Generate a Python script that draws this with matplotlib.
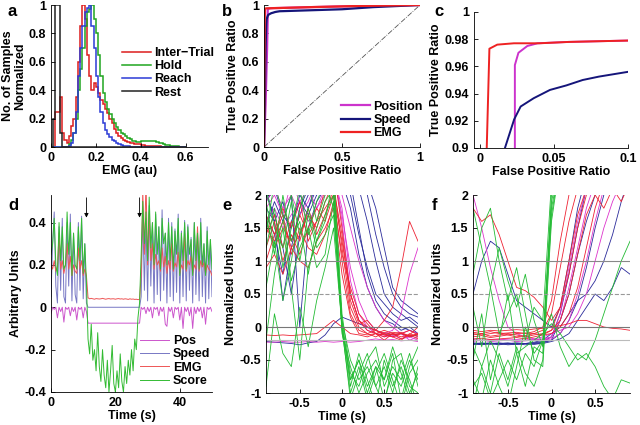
import numpy as np
import matplotlib
matplotlib.use("Agg")
import matplotlib.pyplot as plt
from matplotlib.ticker import FuncFormatter

plt.rcParams['font.family'] = ['Liberation Sans', 'DejaVu Sans']
plt.rcParams['font.weight'] = 'bold'
plt.rcParams['axes.labelweight'] = 'bold'
plt.rcParams['font.size'] = 9

# ---- panel a: EMG histograms (bins of 0.01 from 0 to 0.6) ----
hist_edges = np.linspace(0, 0.6, 61)
inter_trial = [0, 0, 0.25, 0.25, 0.35, 0.1, 0.05, 0.03, 0.08, 0.15,
               0.2, 0.35, 0.6, 0.85, 1.0, 0.9, 0.65, 0.5, 0.4, 0.45,
               0.42, 0.38, 0.33, 0.3, 0.27, 0.24, 0.2, 0.17, 0.13, 0.1,
               0.08, 0.06, 0.05, 0.04, 0.035, 0.03, 0.025, 0.02, 0.02, 0.018,
               0.015, 0.012, 0.01, 0.01, 0.008, 0.008, 0.006, 0.005, 0.004, 0.003,
               0.002, 0.002, 0.001, 0.001, 0, 0, 0, 0, 0, 0]
hold = [0, 0, 0, 0, 0, 0, 0, 0, 0.02, 0.05,
        0.1, 0.2, 0.4, 0.55, 0.7, 0.85, 0.95, 0.97, 1.0, 0.9,
        0.8, 0.65, 0.5, 0.38, 0.32, 0.27, 0.23, 0.2, 0.17, 0.14,
        0.12, 0.1, 0.09, 0.08, 0.065, 0.055, 0.045, 0.04, 0.035, 0.035,
        0.04, 0.04, 0.045, 0.04, 0.045, 0.04, 0.04, 0.035, 0.03, 0.025,
        0.02, 0.015, 0.012, 0.01, 0.008, 0.005, 0.004, 0.003, 0.002, 0.001]
reach = [0, 0, 0, 0, 0, 0, 0, 0, 0.01, 0.03,
         0.1, 0.25, 0.5, 0.7, 0.85, 0.95, 0.98, 1.0, 0.85, 0.7,
         0.5, 0.35, 0.25, 0.17, 0.12, 0.09, 0.07, 0.05, 0.04, 0.03,
         0.02, 0.015, 0.01, 0.008, 0.005, 0.003, 0, 0, 0, 0,
         0, 0, 0, 0, 0, 0, 0, 0, 0, 0,
         0, 0, 0, 0, 0, 0, 0, 0, 0, 0]
rest = [0, 0.2, 1.0, 1.0, 0.1] + [0] * 55

# ---- panels b, c: ROC curves ----
pos_fpr = [0, 0.01, 0.02, 0.0236, 0.0236, 0.026, 0.032, 0.039, 0.06, 0.1, 0.3, 0.6, 1.0]
pos_tpr = [0, 0.3, 0.7, 0.9, 0.961, 0.970, 0.975, 0.977, 0.978, 0.979, 0.985, 0.993, 1.0]
spd_fpr = [0, 0.005, 0.01, 0.015, 0.0169, 0.0231, 0.0275, 0.0363, 0.0473, 0.0583,
           0.0694, 0.0804, 0.1, 0.3, 0.5, 0.7, 1.0]
spd_tpr = [0, 0.3, 0.7, 0.87, 0.9, 0.921, 0.9305, 0.9366, 0.9427, 0.946,
           0.950, 0.9525, 0.956, 0.963, 0.970, 0.985, 1.0]
emg_fpr = [0, 0.002, 0.0046, 0.0064, 0.0117, 0.023, 0.04, 0.06, 0.1, 0.3, 0.6, 1.0]
emg_tpr = [0, 0.5, 0.9, 0.973, 0.976, 0.977, 0.977, 0.978, 0.979, 0.985, 0.993, 1.0]

# ---- panel d: example session (samples every 0.5 s) ----
d_time = np.arange(0, 50.5, 0.5)
speed_d = ([0.05, 0.30, 0.45, 0.10, 0.02, 0.38, 0.08, 0.42, 0.05, 0.02, 0.40, 0.10,
            0.44, 0.03, 0.35, 0.06, 0.02, 0.40, 0.08, 0.43, 0.04, 0.30, 0.02]
           + [0.0] * 33
           + [0.05, 0.45, 0.08, 0.42, 0.03, 0.48, 0.10, 0.40, 0.02, 0.44, 0.06, 0.38,
              0.03, 0.46, 0.08, 0.35, 0.02, 0.42, 0.05, 0.40, 0.03, 0.37, 0.07, 0.44,
              0.02, 0.36, 0.05, 0.41, 0.03, 0.39, 0.08, 0.33, 0.02, 0.40, 0.06, 0.36,
              0.03, 0.42, 0.05, 0.30, 0.02, 0.38, 0.04, 0.32, 0.05])
score_d = ([0.25, 0.30, 0.42, 0.20, 0.15, 0.40, 0.22, 0.38, 0.18, 0.20, 0.45, 0.25,
            0.40, 0.15, 0.35, 0.20, 0.18, 0.38, 0.22, 0.42, 0.16, 0.30, 0.12]
           + [-0.15, -0.22, -0.08, -0.25, -0.2, -0.3, -0.12, -0.28, -0.35, -0.2, -0.32,
              -0.38, -0.25, -0.4, -0.3, -0.18, -0.36, -0.4, -0.3, -0.38, -0.22, -0.35,
              -0.4, -0.28, -0.36, -0.25, -0.32, -0.2, -0.3, -0.15, -0.2, -0.05, 0.02]
           + [0.25, 0.50, 0.30, 0.45, 0.22, 0.52, 0.28, 0.40, 0.20, 0.45, 0.25, 0.38,
              0.18, 0.42, 0.30, 0.35, 0.20, 0.40, 0.22, 0.38, 0.18, 0.36, 0.25, 0.42,
              0.15, 0.35, 0.22, 0.40, 0.18, 0.38, 0.25, 0.32, 0.15, 0.40, 0.22, 0.35,
              0.18, 0.40, 0.20, 0.30, 0.15, 0.36, 0.20, 0.32, 0.18])
emg_d = ([0.20, 0.18, 0.22, 0.17, 0.19, 0.35, 0.18, 0.22, 0.16, 0.20, 0.30, 0.18,
          0.24, 0.15, 0.20, 0.17, 0.16, 0.28, 0.18, 0.22, 0.15, 0.18, 0.15]
         + [0.045, 0.04, 0.042, 0.04, 0.038, 0.041, 0.04, 0.039, 0.04, 0.042, 0.04,
            0.038, 0.04, 0.041, 0.039, 0.04, 0.04, 0.038, 0.04, 0.041, 0.039, 0.04,
            0.038, 0.04, 0.039, 0.037, 0.04, 0.038, 0.039, 0.037, 0.038, 0.036, 0.037]
         + [0.15, 0.55, 0.25, 0.60, 0.20, 0.45, 0.22, 0.30, 0.18, 0.25, 0.20, 0.22,
            0.17, 0.28, 0.19, 0.24, 0.16, 0.22, 0.18, 0.30, 0.17, 0.21, 0.19, 0.26,
            0.16, 0.20, 0.18, 0.35, 0.17, 0.22, 0.20, 0.24, 0.16, 0.20, 0.18, 0.38,
            0.17, 0.22, 0.19, 0.21, 0.16, 0.20, 0.18, 0.17, 0.15])
pos_d = ([-0.03, 0.0, -0.01, 0.0, -0.05, 0.0, -0.02, 0.0, -0.07, 0.0, -0.01, 0.0,
          -0.04, 0.0, -0.02, 0.0, -0.06, 0.0, -0.01, 0.0, -0.05, 0.0, -0.02]
         + [-0.075] * 33
         + [0.0, -0.01, 0.0, -0.03, 0.0, -0.02, 0.0, -0.05, 0.0, -0.01, 0.0, -0.04,
            0.0, -0.02, 0.0, -0.08, -0.09, 0.0, -0.02, 0.0, -0.05, 0.0, -0.01, 0.0,
            -0.06, 0.0, -0.10, 0.0, -0.02, 0.0, -0.04, 0.0, -0.1, 0.0, -0.03, 0.0,
            -0.02, 0.0, -0.05, 0.0, -0.08, 0.0, -0.01, 0.0, -0.02])
arrow_times = [11, 27.5]

# ---- panels e, f: aligned traces ----
tt = [-0.9, -0.8, -0.7, -0.6, -0.5, -0.4, -0.3, -0.2, -0.1, 0,
      0.1, 0.2, 0.3, 0.4, 0.5, 0.6, 0.7, 0.8, 0.9]

e_score = [
    [1.2, 1.8, 0.9, 1.5, 2.1, 1.4, 1.9, 2.2, 1.8, 0.1, -0.8, -0.5, -0.9, -0.6, -1.1, -0.7, -0.9, -0.5, -0.8],
    [-0.2, 0.8, 1.5, 0.6, -0.5, 0.9, 1.3, 1.6, 2.3, 0.0, -1.1, -0.7, -0.4, -0.9, -0.6, -1.0, -0.5, -0.8, -1.2],
    [1.7, 1.1, 2.0, 1.3, 1.6, 0.8, 1.5, 1.9, 2.1, -0.1, -0.6, -1.0, -0.7, -0.5, -0.8, -0.4, -1.1, -0.6, -0.3],
    [2.1, 1.5, 1.2, 1.9, 1.0, 1.7, 1.2, 1.4, 1.7, 0.05, -0.9, -0.4, -0.8, -1.2, -0.5, -0.9, -0.6, -1.0, -0.7],
    [0.6, 1.3, 0.4, 1.0, 1.8, 2.2, 1.6, 2.0, 2.4, 0.2, -0.7, -0.9, -0.5, -0.3, -0.9, -0.6, -0.8, -0.4, -0.9],
    [1.4, 2.2, 1.7, 0.7, 1.2, 1.5, 0.9, 1.1, 1.9, -0.05, -1.0, -0.6, -1.1, -0.7, -0.4, -0.8, -1.2, -0.7, -0.5],
    [-0.9, 0.2, -0.4, -0.6, 0.3, -0.3, 0.4, 0.9, 1.5, 0.0, -0.8, -0.5, -1.0, -0.6, -0.8, -0.3, -0.7, -1.1, -0.6],
    [1.9, 1.2, 1.6, 2.0, 1.4, 1.8, 1.3, 1.7, 2.0, 0.1, -0.5, -0.8, -0.6, -0.9, -1.2, -0.5, -0.4, -0.9, -1.0],
]
e_emg = [
    [1.5, 1.3, 1.6, 1.2, 1.4, 1.7, 1.5, 1.9, 2.2, 1.2, 0.3, 0.0, -0.1, -0.05, -0.12, -0.08, -0.1, -0.15, -0.1],
    [1.2, 1.6, 1.0, 1.4, 1.1, 1.5, 1.8, 1.6, 2.0, 1.0, 0.2, -0.05, -0.1, -0.15, -0.08, -0.12, -0.1, -0.05, -0.12],
    [1.7, 1.4, 1.8, 1.5, 1.9, 1.3, 1.6, 2.1, 2.4, 1.5, 0.5, 0.1, -0.05, -0.1, -0.2, -0.1, -0.15, -0.12, -0.18],
    [0.9, 1.1, 0.8, 1.2, 1.0, 0.9, 1.3, 1.5, 1.8, 0.8, 0.15, -0.1, -0.12, -0.1, -0.15, -0.1, -0.08, -0.14, -0.1],
    [-0.12, -0.13, -0.12, -0.13, -0.12, -0.11, -0.1, 0.0, 0.1, 0.0, -0.1, -0.12, -0.15, -0.1, -0.12, -0.15, -0.1, -0.13, -0.12],
    [1.4, 1.7, 1.2, 1.6, 1.3, 1.8, 1.4, 1.7, 2.1, 1.4, 0.4, 0.05, 0.1, -0.05, -0.1, -0.15, -0.2, -0.1, -0.15],
    [1.0, 1.4, 1.7, 1.1, 1.5, 1.2, 1.1, 1.4, 1.9, 1.1, 0.6, 0.2, 0.05, -0.1, -0.05, -0.1, -0.18, -0.12, 0.0],
    [1.6, 1.2, 1.5, 1.3, 1.7, 1.4, 1.6, 1.8, 2.0, 1.3, 0.5, 0.1, 0.0, -0.05, 0.1, 0.3, 0.9, 1.6, 1.3],
]
e_pos = [
    [1.9, 2.1, 1.8, 2.0, 1.7, 1.9, 2.2, 2.3, 2.4, 1.6, 0.5, 0.1, -0.05, -0.1, -0.15, -0.12, -0.18, -0.15, -0.2],
    [1.6, 1.8, 1.5, 1.7, 1.9, 1.6, 1.8, 2.0, 2.3, 1.8, 0.7, 0.2, 0.0, -0.1, -0.12, -0.15, -0.1, -0.2, -0.15],
    [-0.23, -0.23, -0.22, -0.23, -0.23, -0.22, -0.23, -0.22, -0.23, -0.22, -0.23, -0.22, -0.2, -0.18, -0.2, -0.19, -0.21, -0.2, -0.22],
    [2.2, 2.0, 2.3, 2.1, 2.2, 2.0, 2.1, 2.2, 2.3, 2.0, 1.5, 1.0, 0.6, 0.3, 0.1, 0.0, -0.1, -0.05, -0.1],
    [1.8, 2.0, 1.7, 2.2, 1.9, 2.1, 1.8, 2.1, 2.3, 1.7, 0.9, 0.4, 0.1, -0.05, -0.1, -0.05, 0.2, 0.8, 1.2],
]
e_speed = [
    [1.8, 1.6, 1.9, 1.3, 1.7, 2.0, 2.2, 2.3, 2.4, 2.3, 2.2, 1.5, 0.8, 0.4, 0.2, 0.1, 0.0, -0.05, -0.1],
    [2.0, 1.7, 1.2, 0.5, 1.4, 1.8, 2.1, 2.2, 2.3, 2.4, 2.2, 2.1, 1.6, 1.0, 0.5, 0.3, 0.2, 0.1, 0.0],
    [1.5, 1.9, 1.6, 2.0, 0.0, 1.5, 1.9, 2.1, 2.2, 2.3, 2.3, 2.2, 2.0, 1.4, 0.9, 0.5, 0.3, 0.2, 0.15],
    [1.7, 1.4, 0.8, 1.6, 1.9, 1.7, 2.0, 2.2, 2.3, 2.2, 1.8, 1.1, 0.6, 0.3, 0.1, 0.05, -0.05, 0.0, -0.1],
    [-0.22, -0.23, -0.24, -0.25, -0.27, -0.24, -0.22, -0.12, 0.05, 0.15, 0.1, 0.05, 0.0, -0.05, -0.1, -0.12, -0.1, -0.15, -0.12],
    [1.9, 2.1, 1.7, 1.5, 2.0, 1.8, 2.2, 2.3, 2.4, 2.4, 2.3, 2.3, 2.2, 1.8, 1.2, 0.6, 0.4, 0.3, 0.2],
    [2.1, 1.6, 0.4, 1.2, 1.8, 2.1, 2.0, 2.2, 2.3, 2.3, 2.0, 1.4, 0.9, 0.5, 0.35, 0.2, 0.1, 0.15, 0.05],
]

f_score = [
    [-0.5, 0.2, -0.8, -0.2, 0.5, -0.4, -0.9, -0.3, -0.4, 1.9, 2.5, 2.5, 2.5, 2.5, 2.5, 2.5, 2.5, 2.5, 2.5],
    [0.8, 1.5, 1.8, 1.0, 0.4, 0.9, 0.2, -0.5, -0.6, 1.6, 2.5, 2.5, 2.5, 2.5, 2.5, 2.5, 2.5, 2.5, 2.5],
    [-1.2, -0.6, -1.0, -0.4, -0.8, -0.3, -0.7, -0.9, -0.5, 1.7, 2.5, 2.5, 2.5, 2.5, 2.5, 2.5, 2.5, 2.5, 2.5],
    [0.3, -0.3, 0.6, 1.2, 0.7, 0.3, 0.8, 0.1, -0.3, 2.0, 2.5, 2.5, 2.5, 2.5, 2.5, 2.5, 2.5, 2.5, 2.5],
    [-0.8, -1.1, -0.5, -0.9, -1.2, -0.6, 0.0, -0.4, -0.2, 1.8, 2.5, 2.5, 2.5, 2.5, 2.5, 2.5, 2.5, 2.5, 2.5],
    [1.8, 1.2, 0.6, -0.1, 0.2, 0.5, -0.2, 0.3, 0.1, 2.2, 2.5, 2.5, 2.5, 2.5, 2.5, 2.5, 2.5, 2.5, 2.5],
    [-0.3, -0.6, -0.2, -0.5, -0.9, -0.4, -0.3, -0.2, -0.1, 0.05, -0.1, -0.3, -0.5, -0.4, -0.6, -0.9, -1.1, -0.8, -0.85],
    [-0.9, -0.7, -1.1, -0.8, -0.5, -0.8, -0.4, -0.6, -0.2, 0.2, -0.3, -0.6, -0.4, -0.5, -0.2, 0.2, 0.6, 1.0, 1.3],
]
f_emg = [
    [-0.1, -0.12, -0.1, -0.08, -0.12, -0.1, -0.09, -0.1, -0.05, 0.2, 0.9, 1.6, 2.1, 2.3, 2.4, 2.4, 2.4, 2.4, 2.4],
    [-0.15, -0.13, -0.16, -0.14, -0.12, -0.15, -0.13, -0.1, -0.12, -0.05, 0.3, 1.0, 1.7, 2.1, 2.3, 2.4, 2.4, 2.4, 2.4],
    [-0.08, -0.1, -0.07, -0.1, -0.09, -0.08, -0.1, -0.07, 0.0, 0.4, 1.3, 2.0, 2.3, 2.4, 2.4, 2.4, 2.4, 2.4, 2.4],
    [-0.12, -0.1, -0.14, -0.12, -0.1, -0.12, -0.15, -0.12, -0.1, -0.05, 0.1, 0.5, 1.1, 1.7, 2.0, 1.8, 2.1, 1.9, 2.2],
    [1.8, 1.6, 1.7, 1.4, 1.0, 0.6, 0.55, 0.45, 0.3, 0.1, 0.3, 0.8, 1.5, 2.0, 2.3, 2.4, 2.4, 2.4, 2.4],
    [-0.05, -0.07, -0.05, -0.06, -0.05, -0.04, -0.05, -0.03, -0.02, 0.0, 0.02, 0.05, 0.1, 0.1, 0.05, 0.0, -0.02, -0.03, -0.05],
    [-0.18, -0.17, -0.19, -0.18, -0.17, -0.16, -0.18, -0.15, -0.12, -0.1, 0.0, 0.2, 0.6, 1.2, 1.8, 2.2, 2.4, 2.4, 2.4],
]
f_pos = [
    [-0.2, -0.21, -0.2, -0.19, -0.2, -0.21, -0.2, -0.19, -0.18, -0.15, 0.1, 0.6, 1.2, 1.8, 2.2, 2.4, 2.4, 2.4, 2.4],
    [-0.22, -0.2, -0.22, -0.21, -0.2, -0.22, -0.21, -0.2, -0.2, -0.18, -0.1, 0.1, 0.5, 1.0, 1.6, 2.1, 2.3, 2.4, 2.4],
    [-0.19, -0.2, -0.19, -0.2, -0.18, -0.19, -0.2, -0.18, -0.15, -0.1, -0.05, 0.0, 0.2, 0.5, 1.0, 1.5, 1.9, 2.2, 2.4],
    [2.0, 1.5, 0.9, 0.4, 0.0, -0.1, -0.15, -0.18, -0.2, -0.15, 0.2, 0.9, 1.6, 2.1, 2.4, 2.4, 2.4, 2.4, 2.4],
]
f_speed = [
    [-0.25, -0.26, -0.25, -0.27, -0.25, -0.26, -0.25, -0.24, -0.22, -0.15, 0.2, 0.8, 1.5, 2.1, 2.4, 2.4, 2.4, 2.4, 2.4],
    [-0.27, -0.25, -0.26, -0.25, -0.27, -0.26, -0.25, -0.26, -0.24, -0.2, -0.1, 0.1, 0.4, 0.9, 1.5, 2.0, 2.3, 2.4, 2.4],
    [-0.24, -0.25, -0.24, -0.26, -0.25, -0.24, -0.25, -0.23, -0.2, -0.1, 0.0, 0.2, 0.4, 0.5, 0.7, 1.0, 1.4, 1.9, 2.3],
    [0.5, 1.0, 1.3, 1.2, 0.8, 0.4, 0.3, 0.2, 0.1, 0.0, 0.3, 1.0, 1.8, 2.3, 2.4, 2.4, 2.4, 2.4, 2.4],
    [-0.26, -0.24, -0.26, -0.25, -0.24, -0.26, -0.25, -0.26, -0.25, -0.22, -0.18, -0.1, 0.1, 0.3, 0.5, 0.4, 0.6, 0.9, 0.8],
    [-0.25, -0.27, -0.25, -0.24, -0.26, -0.25, -0.27, -0.25, -0.23, -0.2, 0.1, 0.5, 1.1, 1.6, 2.0, 2.3, 2.4, 2.4, 2.4],
]

W, H = 640, 425


def px_axes(fig, left, top, right, bottom):
    return fig.add_axes([left / W, 1 - bottom / H, (right - left) / W, (bottom - top) / H])


def style(ax):
    ax.spines['top'].set_visible(False)
    ax.spines['right'].set_visible(False)
    ax.tick_params(direction='in', length=3, width=0.6, labelsize=9)
    for s in ax.spines.values():
        s.set_linewidth(0.6)
    ax.xaxis.set_major_formatter(FuncFormatter(lambda v, p: '%g' % round(v, 4)))
    ax.yaxis.set_major_formatter(FuncFormatter(lambda v, p: '%g' % round(v, 4)))


fig = plt.figure(figsize=(6.4, 4.25), dpi=100)

# a
ax = px_axes(fig, 51, 5, 208, 147)
ax.stairs(inter_trial, hist_edges, color='#dd1c1c', lw=1.1, label='Inter\u2212Trial')
ax.stairs(hold, hist_edges, color='#1fa51f', lw=1.1, label='Hold')
ax.stairs(reach, hist_edges, color='#2b3bd6', lw=1.1, label='Reach')
ax.stairs(rest, hist_edges, color='#222222', lw=1.1, label='Rest')
ax.set_xlim(0, 0.7)
ax.set_ylim(0, 1)
ax.set_xticks([0, 0.2, 0.4, 0.6])
ax.set_yticks([0, 0.2, 0.4, 0.6, 0.8, 1])
ax.set_xlabel('EMG (au)', labelpad=1)
ax.set_ylabel('No. of Samples\nNormalized', labelpad=2, linespacing=1.0)
ax.legend(loc='upper left', bbox_to_anchor=(0.42, 0.74), frameon=False,
          handlelength=2.3, labelspacing=0.1, handletextpad=0.3, borderaxespad=0)
style(ax)

# b
ax = px_axes(fig, 264, 5, 420, 147)
ax.plot([0, 1], [0, 1], color='#555555', lw=0.6, ls='-.')
ax.plot(pos_fpr, pos_tpr, color='#cc33cc', lw=1.6, label='Position')
ax.plot(spd_fpr, spd_tpr, color='#15157a', lw=1.6, label='Speed')
ax.plot(emg_fpr, emg_tpr, color='#ee2222', lw=1.6, label='EMG')
ax.set_xlim(0, 1)
ax.set_ylim(0, 1)
ax.set_xticks([0, 0.5, 1])
ax.set_yticks([0, 0.2, 0.4, 0.6, 0.8, 1])
ax.set_xlabel('False Positive Ratio', labelpad=1)
ax.set_ylabel('True Positive Ratio', labelpad=2)
ax.legend(loc='lower right', bbox_to_anchor=(1.05, 0.02), frameon=False,
          handlelength=2.3, labelspacing=0.1, handletextpad=0.3, borderaxespad=0)
style(ax)

# c
ax = px_axes(fig, 474, 12, 628, 148)
ax.plot(pos_fpr, pos_tpr, color='#cc33cc', lw=1.4)
ax.plot(spd_fpr, spd_tpr, color='#15157a', lw=1.4)
ax.plot(emg_fpr, emg_tpr, color='#ee2222', lw=1.4)
ax.set_xlim(-0.004, 0.1)
ax.set_ylim(0.9, 1)
ax.set_xticks([0, 0.05, 0.1])
ax.set_yticks([0.9, 0.92, 0.94, 0.96, 0.98, 1])
ax.set_xlabel('False Positive Ratio', labelpad=1)
ax.set_ylabel('True Positive Ratio', labelpad=2)
style(ax)

# d
ax = px_axes(fig, 51, 195, 212, 392)
ax.plot(d_time, pos_d, color='#cc55cc', lw=0.7, label='Pos')
ax.plot(d_time, speed_d, color='#7777c4', lw=0.7, label='Speed')
ax.plot(d_time, emg_d, color='#ee5555', lw=0.7, label='EMG')
ax.plot(d_time, score_d, color='#33bb33', lw=0.7, label='Score')
for t in arrow_times:
    ax.annotate('', xy=(t, 0.41), xytext=(t, 0.53),
                arrowprops=dict(arrowstyle='-|>', color='black', lw=0.6,
                                mutation_scale=6))
ax.set_xlim(0, 50)
ax.set_ylim(-0.4, 0.53)
ax.set_xticks([0, 20, 40])
ax.set_yticks([-0.4, -0.2, 0, 0.2, 0.4])
ax.set_xlabel('Time (s)', labelpad=1)
ax.set_ylabel('Arbitrary Units', labelpad=2)
ax.legend(loc='lower right', bbox_to_anchor=(1.02, 0.0), frameon=False,
          handlelength=2.3, labelspacing=0.1, handletextpad=0.3, borderaxespad=0)
style(ax)


def trace_panel(ax, score, emg, pos, speed):
    for y in speed:
        ax.plot(tt, y, color='#2a2a9a', lw=0.6)
    for y in pos:
        ax.plot(tt, y, color='#dd33cc', lw=0.6)
    for y in emg:
        ax.plot(tt, y, color='#ee2233', lw=0.6)
    for y in score:
        ax.plot(tt, y, color='#22bb33', lw=0.6)
    ax.axhline(1, color='#888888', lw=0.8)
    ax.axhline(0.5, color='#999999', lw=0.8, ls='--')
    ax.axhline(0, color='#777777', lw=0.8)
    ax.axhline(-0.2, color='#bbbbbb', lw=0.8)
    ax.set_xlim(-0.9, 0.9)
    ax.set_ylim(-1, 2)
    ax.set_xticks([-0.5, 0, 0.5])
    ax.set_yticks([-1, -0.5, 0, 0.5, 1, 1.5, 2])
    ax.set_xlabel('Time (s)', labelpad=1)
    ax.set_ylabel('Normalized Units', labelpad=2)
    style(ax)


trace_panel(px_axes(fig, 266, 195, 418, 393), e_score, e_emg, e_pos, e_speed)
trace_panel(px_axes(fig, 473, 195, 630, 393), f_score, f_emg, f_pos, f_speed)

for letter, x, y in [('a', 8, 12), ('b', 222, 12), ('c', 434, 12),
                     ('d', 8, 206), ('e', 222, 206), ('f', 432, 206)]:
    fig.text(x / W, 1 - y / H, letter, fontsize=12, fontweight='bold', va='center')

fig.savefig('out.png', dpi=100)
